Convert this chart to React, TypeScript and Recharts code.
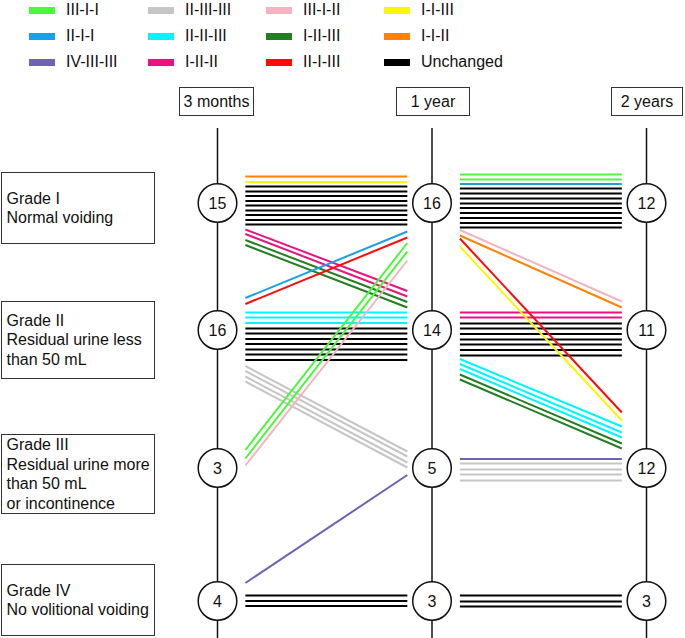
import { LineChart, Line, XAxis, YAxis, ReferenceLine, ReferenceDot } from "recharts";

const TIMES = ["3 months", "1 year", "2 years"];
const TIME_POS = [0, 1, 2];

const GRADE_LABELS = [
  ["Grade I", "Normal voiding"],
  ["Grade II", "Residual urine less", "than 50 mL"],
  ["Grade III", "Residual urine more", "than 50 mL", "or incontinence"],
  ["Grade IV", "No volitional voiding"],
];

// where each grade node sits, counted in line slots from the top
const GRADE_Y = [40.6, 66, 93.6, 120.2];

// patients per grade at each time point
const COUNTS = [
  [15, 16, 3, 4],
  [16, 14, 5, 3],
  [12, 11, 12, 3],
];

const PATHWAYS = [
  { name: "III-I-I", color: "#4cf83c" },
  { name: "II-I-I", color: "#18a1e6" },
  { name: "IV-III-III", color: "#6c63b5" },
  { name: "II-III-III", color: "#c6c6c6" },
  { name: "II-II-III", color: "#00f6ff" },
  { name: "I-II-II", color: "#e8137f" },
  { name: "III-I-II", color: "#f2b4c0" },
  { name: "I-II-III", color: "#217f21" },
  { name: "II-I-III", color: "#ff0a0a" },
  { name: "I-I-III", color: "#f8f800" },
  { name: "I-I-II", color: "#ff8200" },
  { name: "Unchanged", color: "#000000" },
];

type Group = { path: string; from: number; to: number; a: number[]; b?: number[] };

// 3 months -> 1 year, slot offsets from the node centre at each end
const FIRST: Group[] = [
  { path: "I-I-II", from: 1, to: 1, a: [-5.3] },
  { path: "I-I-III", from: 1, to: 1, a: [-4.2] },
  { path: "Unchanged", from: 1, to: 1, a: [-3.3, -2.3, -1.4, -0.4, 0.5, 1.5, 2.4, 3.4, 4.3] },
  { path: "II-II-III", from: 2, to: 2, a: [-3.5, -2.5, -1.4] },
  { path: "Unchanged", from: 2, to: 2, a: [-0.3, 0.7, 1.8, 2.8, 3.9, 4.9, 6.0] },
  { path: "Unchanged", from: 4, to: 4, a: [-1.1, 0, 1.0] },
  { path: "II-III-III", from: 2, to: 3, a: [7.2, 8.2, 9.3, 10.3], b: [-3.3, -2.3, -1.1, -0.1] },
  { path: "I-II-II", from: 1, to: 2, a: [5.3, 6.2], b: [-7.8, -6.7] },
  { path: "I-II-III", from: 1, to: 2, a: [7.4, 8.4], b: [-5.6, -4.5] },
  { path: "II-I-I", from: 2, to: 1, a: [-6.4], b: [5.7] },
  { path: "II-I-III", from: 2, to: 1, a: [-5.2], b: [6.9] },
  { path: "III-I-I", from: 3, to: 1, a: [-3.6, -1.9], b: [8.0, 9.7] },
  { path: "III-I-II", from: 3, to: 1, a: [-0.5], b: [11.5] },
  { path: "IV-III-III", from: 4, to: 3, a: [-3.6], b: [1.4] },
];

// 1 year -> 2 years
const SECOND: Group[] = [
  { path: "III-I-I", from: 1, to: 1, a: [-5.7, -4.7] },
  { path: "II-I-I", from: 1, to: 1, a: [-3.8] },
  { path: "Unchanged", from: 1, to: 1, a: [-2.9, -1.9, -0.9, 0.1, 1.0, 2.0, 3.0, 4.0, 4.9] },
  { path: "I-II-II", from: 2, to: 2, a: [-3.5, -2.5] },
  { path: "Unchanged", from: 2, to: 2, a: [-1.3, -0.3, 0.8, 1.9, 2.9, 4.0, 5.1] },
  { path: "IV-III-III", from: 3, to: 3, a: [-1.8] },
  { path: "II-III-III", from: 3, to: 3, a: [-0.9, 0.3, 1.3, 2.5] },
  { path: "Unchanged", from: 4, to: 4, a: [-1.1, 0.1, 1.1] },
  { path: "III-I-II", from: 1, to: 2, a: [5.4], b: [-5.7] },
  { path: "I-I-II", from: 1, to: 2, a: [6.5], b: [-4.5] },
  { path: "II-II-III", from: 2, to: 3, a: [5.8, 6.8, 7.8], b: [-8.3, -7.1, -6.1] },
  { path: "I-II-III", from: 2, to: 3, a: [8.9, 9.9], b: [-4.9, -3.9] },
  { path: "II-I-III", from: 1, to: 3, a: [7.1], b: [-11.1] },
  { path: "I-I-III", from: 1, to: 3, a: [8.7], b: [-9.5] },
];

const W = 685;
const H = 638;
const PX_PER_T = 214.5;
const T0_PX = 217.5;
const PX_PER_SLOT = 5;
const START_GAP = 0.13;
const END_GAP = 0.115;
const NODE_R = 19.3;
const SPINE_TOP = 25.6;
const FONT = "'Liberation Sans', Arial, Helvetica, sans-serif";

const colorOf = (name: string) => PATHWAYS.find((p) => p.name === name)?.color ?? "#000";

function buildSegments() {
  const out: { key: string; color: string; data: { t: number; y: number }[] }[] = [];
  [FIRST, SECOND].forEach((groups, i) => {
    groups.forEach((g, gi) => {
      g.a.forEach((off, k) => {
        const end = g.b ? g.b[k] : off;
        out.push({
          key: `${i}-${gi}-${k}`,
          color: colorOf(g.path),
          data: [
            { t: TIME_POS[i] + START_GAP, y: GRADE_Y[g.from - 1] + off },
            { t: TIME_POS[i + 1] - END_GAP, y: GRADE_Y[g.to - 1] + end },
          ],
        });
      });
    });
  });
  return out;
}

const LEGEND_COL_X = [29, 148, 266, 384];
const LEGEND_ROW_Y = [10, 36, 62];
const TIME_BOX = [
  { left: 179, width: 75 },
  { left: 396, width: 74 },
  { left: 611, width: 72 },
];
const GRADE_BOX = [
  { top: 172, height: 72 },
  { top: 301, height: 78 },
  { top: 434, height: 80 },
  { top: 564, height: 72 },
];

export default function App() {
  const segments = buildSegments();
  const nodeR = NODE_R / PX_PER_SLOT;
  const spineStops = [SPINE_TOP, ...GRADE_Y.flatMap((y) => [y - nodeR, y + nodeR]), H / PX_PER_SLOT];

  return (
    <div
      style={{
        position: "absolute",
        left: 0,
        top: 0,
        width: W,
        height: H,
        background: "#fff",
        fontFamily: FONT,
        color: "#111",
        overflow: "hidden",
      }}
    >
      <div style={{ position: "absolute", left: 0, top: 0 }}>
        <LineChart width={W} height={H} margin={{ top: 0, right: 0, bottom: 0, left: 0 }}>
          <XAxis
            type="number"
            dataKey="t"
            hide
            allowDataOverflow
            domain={[-T0_PX / PX_PER_T, (W - T0_PX) / PX_PER_T]}
          />
          <YAxis type="number" hide reversed allowDataOverflow domain={[0, H / PX_PER_SLOT]} />
          {TIME_POS.flatMap((t) =>
            [0, 1, 2, 3, 4].map((s) => (
              <ReferenceLine
                key={`spine-${t}-${s}`}
                segment={[
                  { x: t, y: spineStops[s * 2] },
                  { x: t, y: spineStops[s * 2 + 1] },
                ]}
                stroke="#111"
                strokeWidth={1.5}
                ifOverflow="visible"
              />
            ))
          )}
          {segments.map((s) => (
            <Line
              key={s.key}
              data={s.data}
              dataKey="y"
              stroke={s.color}
              strokeWidth={s.color === "#000000" ? 2.2 : 2}
              dot={false}
              activeDot={false}
              isAnimationActive={false}
            />
          ))}
          {TIME_POS.flatMap((t, ti) =>
            GRADE_Y.map((gy, gi) => (
              <ReferenceDot
                key={`node-${ti}-${gi}`}
                x={t}
                y={gy}
                r={NODE_R}
                fill="#fff"
                stroke="#111"
                strokeWidth={1.5}
                ifOverflow="visible"
                label={{ value: String(COUNTS[ti][gi]), position: "center", fontSize: 16, fill: "#111" }}
              />
            ))
          )}
        </LineChart>
      </div>

      {PATHWAYS.map((p, i) => {
        const col = Math.floor(i / 3);
        const row = i % 3;
        return (
          <div key={p.name}>
            <div
              style={{
                position: "absolute",
                left: LEGEND_COL_X[col],
                top: LEGEND_ROW_Y[row] - 3.5,
                width: 26,
                height: 7,
                background: p.color,
              }}
            />
            <div
              style={{
                position: "absolute",
                left: LEGEND_COL_X[col] + 37,
                top: LEGEND_ROW_Y[row] - 9,
                fontSize: 16,
                lineHeight: "18px",
                whiteSpace: "nowrap",
              }}
            >
              {p.name}
            </div>
          </div>
        );
      })}

      {TIMES.map((label, i) => (
        <div
          key={label}
          style={{
            position: "absolute",
            left: TIME_BOX[i].left,
            top: 87,
            width: TIME_BOX[i].width,
            height: 29,
            boxSizing: "border-box",
            border: "1.5px solid #333",
            display: "flex",
            alignItems: "center",
            justifyContent: "center",
            fontSize: 16,
            whiteSpace: "nowrap",
          }}
        >
          {label}
        </div>
      ))}

      {GRADE_LABELS.map((lines, i) => (
        <div
          key={lines[0]}
          style={{
            position: "absolute",
            left: 1,
            top: GRADE_BOX[i].top,
            width: 154,
            height: GRADE_BOX[i].height,
            boxSizing: "border-box",
            border: "1.5px solid #333",
            display: "flex",
            flexDirection: "column",
            justifyContent: "center",
            paddingLeft: 4.5,
            fontSize: 16,
            lineHeight: "19.5px",
            whiteSpace: "nowrap",
          }}
        >
          {lines.map((l) => (
            <div key={l}>{l}</div>
          ))}
        </div>
      ))}
    </div>
  );
}
